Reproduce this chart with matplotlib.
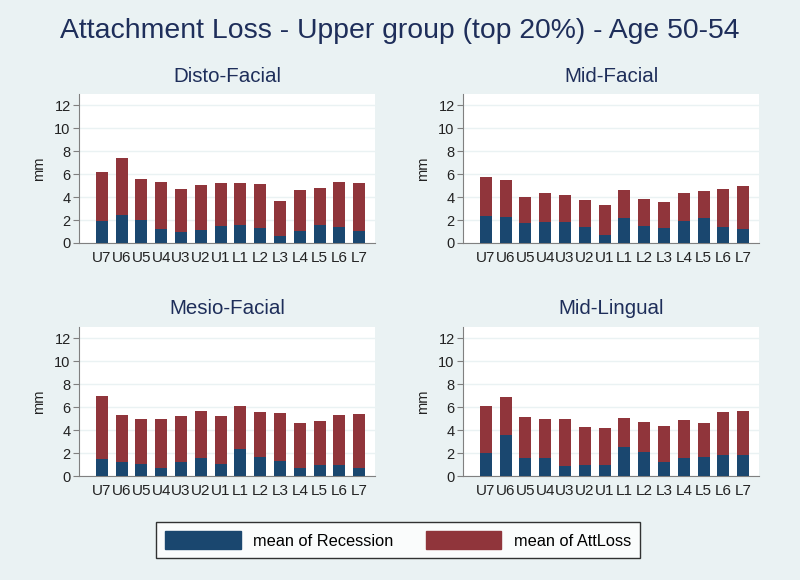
import matplotlib.pyplot as plt
from matplotlib.patches import Patch

plt.rcParams['font.family'] = ['Liberation Sans', 'DejaVu Sans']

teeth = ["U7", "U6", "U5", "U4", "U3", "U2", "U1",
         "L1", "L2", "L3", "L4", "L5", "L6", "L7"]

# mean of Recession (blue, bottom) and total bar height (top of red part)
df_rec = [1.95, 2.4, 2.0, 1.2, 1.0, 1.15, 1.45, 1.6, 1.35, 0.65, 1.05, 1.6, 1.4, 1.05]
df_top = [6.2, 7.4, 5.6, 5.35, 4.75, 5.05, 5.25, 5.2, 5.15, 3.7, 4.6, 4.8, 5.3, 5.25]

mf_rec = [2.35, 2.25, 1.75, 1.8, 1.8, 1.4, 0.7, 2.15, 1.5, 1.35, 1.95, 2.15, 1.4, 1.2]
mf_top = [5.8, 5.5, 4.0, 4.4, 4.2, 3.75, 3.35, 4.65, 3.85, 3.6, 4.35, 4.55, 4.7, 5.0]

mes_rec = [1.45, 1.25, 1.05, 0.7, 1.2, 1.55, 1.05, 2.35, 1.65, 1.35, 0.7, 0.95, 0.95, 0.7]
mes_top = [7.0, 5.35, 4.95, 5.0, 5.25, 5.7, 5.2, 6.1, 5.6, 5.5, 4.6, 4.8, 5.35, 5.4]

ml_rec = [2.0, 3.6, 1.6, 1.55, 0.9, 1.0, 1.0, 2.55, 2.1, 1.2, 1.55, 1.65, 1.8, 1.8]
ml_top = [6.15, 6.85, 5.15, 5.0, 4.95, 4.3, 4.2, 5.1, 4.75, 4.4, 4.85, 4.65, 5.55, 5.65]

panels = [("Disto-Facial", df_rec, df_top),
          ("Mid-Facial", mf_rec, mf_top),
          ("Mesio-Facial", mes_rec, mes_top),
          ("Mid-Lingual", ml_rec, ml_top)]

bg = "#eaf2f3"
blue = "#1a476f"
red = "#90353b"
navy = "#1e2e5a"
axcol = "#808080"

fig = plt.figure(figsize=(8, 5.8), dpi=100, facecolor=bg)

# axes positions in figure fractions
W = 296 / 800
H = 149 / 580
pos = [(79 / 800, (580 - 243) / 580),
       (463 / 800, (580 - 243) / 580),
       (79 / 800, (580 - 476) / 580),
       (463 / 800, (580 - 476) / 580)]

x = list(range(len(teeth)))
for (name, rec, top), (l, b) in zip(panels, pos):
    ax = fig.add_axes([l, b, W, H])
    att = [t - r for t, r in zip(top, rec)]
    ax.bar(x, rec, width=0.6, color=blue, zorder=3)
    ax.bar(x, att, width=0.6, bottom=rec, color=red, zorder=3)
    ax.set_xlim(-1.15, 13.8)
    ax.set_ylim(0, 13)
    ax.set_yticks([0, 2, 4, 6, 8, 10, 12])
    ax.set_xticks(x)
    ax.set_xticklabels(teeth)
    ax.grid(axis='y', color=bg, linewidth=1, zorder=0)
    for s in ['top', 'right']:
        ax.spines[s].set_visible(False)
    ax.spines['left'].set_color(axcol)
    ax.spines['bottom'].set_color(axcol)
    ax.tick_params(axis='y', colors=axcol, labelcolor='#222222', labelsize=10.5,
                   length=4, pad=2)
    ax.tick_params(axis='x', length=0, labelsize=11, labelcolor='#222222', pad=6)
    ax.set_ylabel("mm", fontsize=10.5, color='#222222', labelpad=6)
    ax.set_title(name, fontsize=14.8, color=navy, pad=9)

fig.text(0.5, 0.947, "Attachment Loss - Upper group (top 20%) - Age 50-54",
         ha='center', va='center', fontsize=20.4, color=navy)

handles = [Patch(facecolor=blue, edgecolor=blue, label="mean of Recession"),
           Patch(facecolor=red, edgecolor=red, label="mean of AttLoss")]
leg = fig.legend(handles=handles, loc='center', bbox_to_anchor=(398 / 800, 1 - 540 / 580),
                 ncol=2, fontsize=11.8, frameon=True, fancybox=False,
                 handlelength=4.6, handleheight=1.25, handletextpad=0.75,
                 columnspacing=2.0, borderpad=0.55)
leg.get_frame().set_edgecolor('black')
leg.get_frame().set_linewidth(1.0)

fig.savefig("out.png", dpi=100, facecolor=bg)
